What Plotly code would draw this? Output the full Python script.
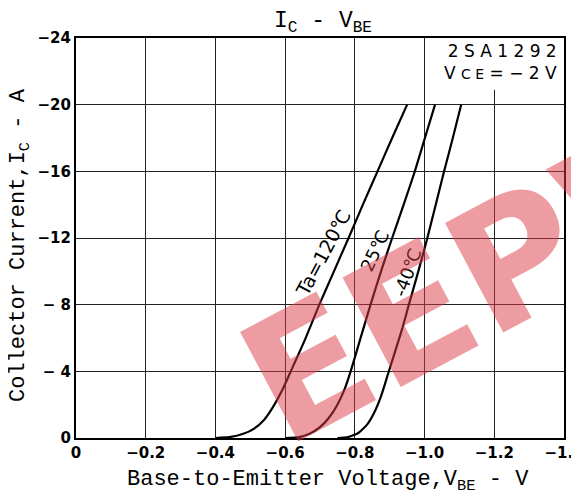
import plotly.graph_objects as go

# ---- data ----
vbe_120 = [-0.40, -0.44, -0.48, -0.51, -0.54, -0.565, -0.59, -0.614, -0.657, -0.698, -0.74, -0.782, -0.823, -0.865, -0.907, -0.95]
ic_120 = [0, -0.05, -0.25, -0.55, -1.1, -1.85, -2.8, -3.9, -5.9, -8, -10, -12, -14, -16, -18, -20]

vbe_25 = [-0.60, -0.64, -0.67, -0.70, -0.725, -0.75, -0.77, -0.788, -0.815, -0.845, -0.875, -0.907, -0.94, -0.972, -1.001, -1.030]
ic_25 = [0, -0.05, -0.25, -0.65, -1.2, -2.0, -2.9, -4.0, -5.9, -8, -10, -12, -14, -16, -18, -20]

vbe_m40 = [-0.75, -0.78, -0.81, -0.835, -0.855, -0.875, -0.896, -0.935, -0.955, -0.982, -1.008, -1.032, -1.056, -1.081, -1.105]
ic_m40 = [0, -0.05, -0.3, -0.8, -1.5, -2.5, -3.9, -6.5, -8, -10, -12, -14, -16, -18, -20]

x_ticks = [0, -0.2, -0.4, -0.6, -0.8, -1.0, -1.2, -1.4]
x_ticktext = ["0", "\u22120.2", "\u22120.4", "\u22120.6", "\u22120.8", "\u22121.0", "\u22121.2", "\u22121.4"]
y_ticks = [0, -4, -8, -12, -16, -20, -24]
y_ticktext = ["0", "\u2212 4", "\u2212 8", "\u221212", "\u221216", "\u221220", "\u221224"]

curve_labels = ["Ta=120\u2103", "25\u2103", "-40\u2103"]

fig = go.Figure()
for xs, ys in [(vbe_120, ic_120), (vbe_25, ic_25), (vbe_m40, ic_m40)]:
    fig.add_trace(go.Scatter(x=xs, y=ys, mode="lines",
                             line=dict(color="black", width=2.2, shape="spline", smoothing=0.5),
                             showlegend=False, hoverinfo="skip"))

mono = "Liberation Mono"
tickfont = dict(family="DejaVu Sans", size=15, color="black", weight="bold")

# page is drawn with an 8px body margin; plot area spans page x 76..564, y 38..438
W, H = 581, 491
fig.update_layout(
    width=W, height=H,
    margin=dict(l=68, r=25, t=30, b=61),
    paper_bgcolor="white", plot_bgcolor="white",
    title=dict(text="I<sub>C</sub> - V<sub>BE</sub>", x=315 / W, xanchor="center",
               y=1 - 11 / H, yanchor="middle",
               font=dict(family=mono, size=23, color="black")),
    xaxis=dict(range=[0, -1.4], tickvals=x_ticks, ticktext=x_ticktext,
               showgrid=True, gridcolor="#222", gridwidth=1,
               showline=True, linecolor="black", linewidth=2, mirror=True,
               ticks="", tickfont=tickfont, zeroline=False, automargin=False,
               ticklabeloverflow="allow"),
    yaxis=dict(range=[0, -24], tickvals=y_ticks, ticktext=y_ticktext,
               showgrid=True, gridcolor="#222", gridwidth=1,
               showline=True, linecolor="black", linewidth=2, mirror=True,
               ticks="", tickfont=tickfont, zeroline=False, automargin=False),
)

# white patch behind the device label (hides part of the -1.2 grid line)
fig.add_shape(type="rect", xref="x", yref="y", x0=-1.06, x1=-1.395, y0=-20.9, y1=-24,
              fillcolor="white", line=dict(width=0), layer="between")

annotations = [
    dict(text="2 S A 1 2 9 2<br>V <span style='font-size:14px'>C E</span> = \u2212 2 V",
         xref="paper", yref="paper", x=0.99, y=1 - 1 / 400, align="right",
         xanchor="right", yanchor="top", showarrow=False,
         font=dict(family="DejaVu Sans", size=17, color="black")),
    dict(text="Base-to-Emitter Voltage,V<sub>BE</sub> - V", xref="paper", yref="paper",
         x=(328 - 76) / 488, y=-(481 - 438) / 400, xanchor="center", yanchor="middle",
         showarrow=False, font=dict(family=mono, size=22, color="black")),
    dict(text="Collector Current,I<sub>C</sub> - A", xref="paper", yref="paper",
         x=-(76 - 20) / 488, y=(438 - 245) / 400, xanchor="center", yanchor="middle",
         textangle=-90, showarrow=False, font=dict(family=mono, size=22, color="black")),
    dict(text=curve_labels[0], xref="x", yref="y", x=-(323 - 76) / 348.5, y=-(438 - 253) / 16.67,
         textangle=-62, showarrow=False, font=dict(family="DejaVu Sans", size=19, color="black")),
    dict(text=curve_labels[1], xref="x", yref="y", x=-(374 - 76) / 348.5, y=-(438 - 251) / 16.67,
         textangle=-65, showarrow=False, font=dict(family="DejaVu Sans", size=18, color="black")),
    dict(text=curve_labels[2], xref="x", yref="y", x=-(407 - 76) / 348.5, y=-(438 - 272) / 16.67,
         textangle=-70, showarrow=False, font=dict(family="DejaVu Sans", size=18, color="black")),
    # watermark
    dict(text="EEPW", xref="paper", yref="paper", x=(497 - 76) / 488, y=(438 - 269) / 400,
         xanchor="center", yanchor="middle", textangle=-28, showarrow=False,
         font=dict(family="DejaVu Sans", size=170, color="rgba(220,60,70,0.5)", weight="bold")),
]
fig.update_layout(annotations=annotations)

fig.write_html("out.html")
